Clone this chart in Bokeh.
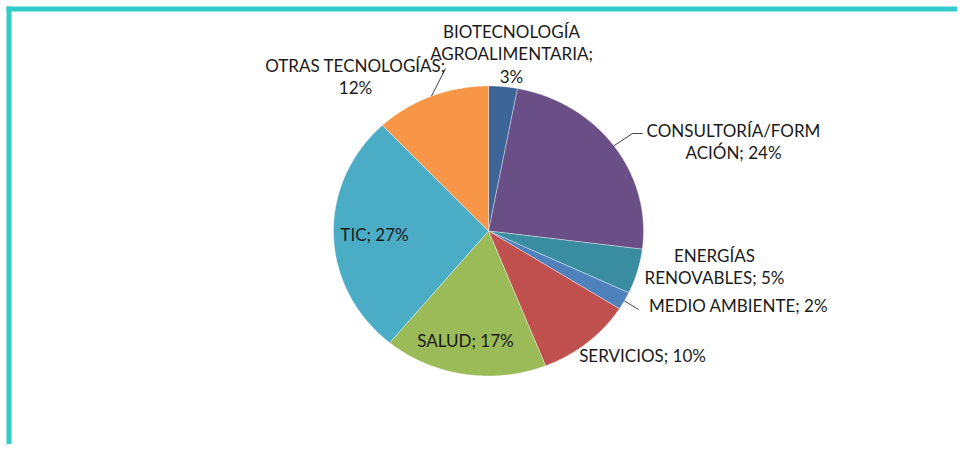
import numpy as np
from bokeh.plotting import figure
from bokeh.models import Range1d, ColumnDataSource
from bokeh.core.properties import value
from bokeh.embed import file_html
from bokeh.resources import INLINE

# ---- data ----
categories = ["BIOTECNOLOGÍA AGROALIMENTARIA", "CONSULTORÍA/FORMACIÓN", "ENERGÍAS RENOVABLES",
              "MEDIO AMBIENTE", "SERVICIOS", "SALUD", "TIC", "OTRAS TECNOLOGÍAS"]
percentages = [3, 24, 5, 2, 10, 17, 27, 12]
label_texts = ["BIOTECNOLOGÍA\nAGROALIMENTARIA;\n3%", "CONSULTORÍA/FORM\nACIÓN; 24%",
               "ENERGÍAS\nRENOVABLES; 5%", "MEDIO AMBIENTE; 2%", "SERVICIOS; 10%",
               "SALUD; 17%", "TIC; 27%", "OTRAS TECNOLOGÍAS;\n12%"]

# ---- styles / layout ----
colors = ["#3E6597", "#6A4F87", "#3A8CA1", "#4F81BD", "#C0504D", "#9BBB59", "#4BACC6", "#F79646"]
W, H = 957, 444
cx, cy, rx, ry = 488, 230.5, 155, 145
# label centre offsets from pie centre (pixels)
label_off = [(23, -177), (245, -89.5), (226, 35.5), (250, 74.5), (154, 124.5),
             (-23, 109.5), (-114, 3.5), (-133, -154.5)]
# leader line end points for labels with leaders (index -> list of points)
leaders = {7: [(445, 68)], 1: [(632, 133), (642, 133)], 3: [(638, 309)]}

p = figure(width=W, height=H, output_backend="svg", toolbar_location=None,
           x_range=Range1d(0, W), y_range=Range1d(H, 0),
           min_border=0, outline_line_color=None)
p.axis.visible = False
p.grid.visible = False
p.background_fill_color = "white"
p.border_fill_color = "white"

# frame lines (top and left)
p.quad(left=[6, 6], right=[965, 11], top=[6, 6], bottom=[11, 460],
       fill_color="#33CCCC", line_color=None)

vals = np.array(percentages, dtype=float)
cum = np.concatenate([[0], np.cumsum(vals)]) / vals.sum() * 360.0
xs, ys = [], []
for i in range(len(vals)):
    a = np.radians(np.linspace(cum[i], cum[i + 1], 80))
    xs.append(list(np.concatenate([[cx], cx + rx * np.sin(a)])))
    ys.append(list(np.concatenate([[cy], cy - ry * np.cos(a)])))
src = ColumnDataSource(dict(xs=xs, ys=ys, color=colors, cat=categories))
p.patches("xs", "ys", fill_color="color", line_color="white", line_width=0.6,
          line_alpha=0.6, source=src)

# leader lines
for i, pts in leaders.items():
    mid = np.radians((cum[i] + cum[i + 1]) / 2)
    lx = [cx + rx * np.sin(mid)] + [q[0] for q in pts]
    ly = [cy - ry * np.cos(mid)] + [q[1] for q in pts]
    p.line(lx, ly, line_color="#404040", line_width=1)

lsrc = ColumnDataSource(dict(x=[cx + o[0] for o in label_off], y=[cy + o[1] for o in label_off],
                             text=label_texts))
p.text("x", "y", text="text", source=lsrc, text_font=value("Lato"), text_font_size="17px",
       text_color="#1a1a1a", text_align="center", text_baseline="middle",
       text_line_height=1.05)

open("out.html", "w").write(file_html(p, INLINE))
